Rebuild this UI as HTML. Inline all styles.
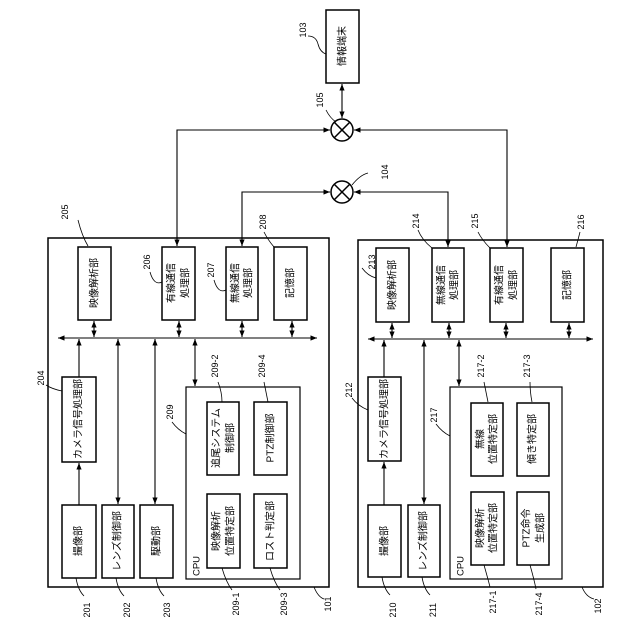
<!DOCTYPE html>
<html><head><meta charset="utf-8"><style>
html,body{margin:0;padding:0;background:#fff}
svg{display:block}
text{font-family:"Liberation Sans","Noto Sans CJK JP",sans-serif;fill:#000}
</style></head><body>
<svg width="640" height="640" viewBox="0 0 640 640" xmlns="http://www.w3.org/2000/svg">
<defs>
<marker id="a" viewBox="0 0 10 10" refX="10" refY="5" markerWidth="6" markerHeight="6" orient="auto-start-reverse"><path d="M0,1 L10,5 L0,9 z" fill="#000"/></marker>
</defs>
<g fill="none" stroke="#000" stroke-width="1.5">
<rect x="48" y="238" width="281" height="349"/>
<rect x="358" y="240" width="245" height="347"/>
<rect x="326" y="10" width="33" height="73"/>
<rect x="78" y="247" width="33" height="73"/>
<rect x="162" y="247" width="33" height="73"/>
<rect x="226" y="247" width="32" height="73"/>
<rect x="274" y="247" width="33" height="73"/>
<rect x="62" y="377" width="34" height="85"/>
<rect x="62" y="505" width="34" height="73"/>
<rect x="102" y="505" width="32" height="73"/>
<rect x="140" y="505" width="33" height="73"/>
<rect x="186" y="387" width="114" height="192" stroke-width="1.2"/>
<rect x="207" y="402" width="32" height="73"/>
<rect x="254" y="402" width="33" height="73"/>
<rect x="207" y="494" width="33" height="74"/>
<rect x="254" y="494" width="33" height="74"/>
<rect x="376" y="248" width="33" height="74"/>
<rect x="432" y="248" width="32" height="74"/>
<rect x="490" y="248" width="33" height="74"/>
<rect x="551" y="248" width="33" height="74"/>
<rect x="368" y="377" width="33" height="84"/>
<rect x="368" y="505" width="33" height="72"/>
<rect x="408" y="505" width="32" height="72"/>
<rect x="450" y="387" width="112" height="192" stroke-width="1.2"/>
<rect x="471" y="403" width="32" height="73"/>
<rect x="517" y="403" width="32" height="73"/>
<rect x="471" y="492" width="33" height="73"/>
<rect x="517" y="492" width="32" height="73"/>
</g>
<g fill="none" stroke="#000" stroke-width="1.1">
<line x1="58" y1="338" x2="317" y2="338" marker-start="url(#a)" marker-end="url(#a)"/>
<line x1="368" y1="339" x2="593" y2="339" marker-start="url(#a)" marker-end="url(#a)"/>
<line x1="94" y1="321" x2="94" y2="337" marker-start="url(#a)" marker-end="url(#a)"/>
<line x1="179" y1="321" x2="179" y2="337" marker-start="url(#a)" marker-end="url(#a)"/>
<line x1="242" y1="321" x2="242" y2="337" marker-start="url(#a)" marker-end="url(#a)"/>
<line x1="292" y1="321" x2="292" y2="337" marker-start="url(#a)" marker-end="url(#a)"/>
<line x1="79" y1="505" x2="79" y2="463" marker-end="url(#a)"/>
<line x1="79" y1="377" x2="79" y2="339" marker-end="url(#a)"/>
<line x1="118" y1="339" x2="118" y2="504" marker-start="url(#a)" marker-end="url(#a)"/>
<line x1="155" y1="339" x2="155" y2="504" marker-start="url(#a)" marker-end="url(#a)"/>
<line x1="195" y1="339" x2="195" y2="386" marker-start="url(#a)" marker-end="url(#a)"/>
<line x1="392" y1="323" x2="392" y2="338" marker-start="url(#a)" marker-end="url(#a)"/>
<line x1="449" y1="323" x2="449" y2="338" marker-start="url(#a)" marker-end="url(#a)"/>
<line x1="506" y1="323" x2="506" y2="338" marker-start="url(#a)" marker-end="url(#a)"/>
<line x1="569" y1="323" x2="569" y2="338" marker-start="url(#a)" marker-end="url(#a)"/>
<line x1="384" y1="505" x2="384" y2="462" marker-end="url(#a)"/>
<line x1="384" y1="377" x2="384" y2="340" marker-end="url(#a)"/>
<line x1="424" y1="340" x2="424" y2="504" marker-start="url(#a)" marker-end="url(#a)"/>
<line x1="459" y1="340" x2="459" y2="386" marker-start="url(#a)" marker-end="url(#a)"/>
<line x1="342" y1="84" x2="342" y2="118" marker-start="url(#a)" marker-end="url(#a)"/>
<polyline points="177,246 177,130 330,130" marker-start="url(#a)" marker-end="url(#a)"/>
<polyline points="507,247 507,130 354,130" marker-start="url(#a)" marker-end="url(#a)"/>
<polyline points="242,246 242,192 330,192" marker-start="url(#a)" marker-end="url(#a)"/>
<polyline points="448,247 448,192 354,192" marker-start="url(#a)" marker-end="url(#a)"/>
</g>
<g fill="none" stroke="#000" stroke-width="1.5">
<circle cx="342" cy="130" r="11"/>
<line x1="334" y1="122" x2="350" y2="138"/><line x1="350" y1="122" x2="334" y2="138"/>
<circle cx="342" cy="192" r="11"/>
<line x1="334" y1="184" x2="350" y2="200"/><line x1="350" y1="184" x2="334" y2="200"/>
</g>
<g fill="none" stroke="#000" stroke-width="0.8">
<path d="M308,36 q8,0 10,8 q2,8 8,10"/>
<path d="M326,110 q4,8 10,12"/>
<path d="M352,185 q8,-10 16,-12"/>
<path d="M78,220 q4,16 10,26"/>
<path d="M264,232 q4,8 10,15"/>
<path d="M418,230 q4,10 14,18"/>
<path d="M478,232 q4,8 12,16"/>
<path d="M580,232 q-2,8 -4,15"/>
<path d="M150,272 q4,14 12,10"/>
<path d="M214,280 q4,14 12,10"/>
<path d="M362,268 q6,8 14,10"/>
<path d="M46,385 q6,4 16,6"/>
<path d="M352,398 q6,8 16,12"/>
<path d="M172,422 q6,8 14,12"/>
<path d="M436,424 q6,8 14,12"/>
<path d="M218,382 q4,10 4,20"/>
<path d="M264,382 q2,10 4,20"/>
<path d="M484,382 q2,10 4,20"/>
<path d="M530,382 q0,10 2,20"/>
<path d="M76,578 q2,12 8,18"/>
<path d="M116,578 q2,12 8,18"/>
<path d="M156,578 q2,12 8,18"/>
<path d="M222,568 q4,14 10,22"/>
<path d="M270,568 q4,14 10,22"/>
<path d="M314,587 q4,10 10,12"/>
<path d="M382,577 q2,12 8,18"/>
<path d="M422,577 q2,12 8,18"/>
<path d="M484,565 q4,14 6,22"/>
<path d="M530,565 q4,14 6,24"/>
<path d="M582,587 q4,10 12,12"/>
</g>
<g font-size="10" text-anchor="middle" dominant-baseline="central">
<text transform="translate(343,46) rotate(-90)">情報端末</text>
<text transform="translate(95,283) rotate(-90)">映像解析部</text>
<text transform="translate(172,283) rotate(-90)">有線通信</text>
<text transform="translate(186,283) rotate(-90)">処理部</text>
<text transform="translate(236,283) rotate(-90)">無線通信</text>
<text transform="translate(249,283) rotate(-90)">処理部</text>
<text transform="translate(291,283) rotate(-90)">記憶部</text>
<text transform="translate(79,419) rotate(-90)">カメラ信号処理部</text>
<text transform="translate(79,541) rotate(-90)">撮像部</text>
<text transform="translate(118,541) rotate(-90)">レンズ制御部</text>
<text transform="translate(157,541) rotate(-90)">駆動部</text>
<text transform="translate(217,438) rotate(-90)">追尾システム</text>
<text transform="translate(231,438) rotate(-90)">制御部</text>
<text transform="translate(271,438) rotate(-90)">PTZ制御部</text>
<text transform="translate(217,531) rotate(-90)">映像解析</text>
<text transform="translate(231,531) rotate(-90)">位置特定部</text>
<text transform="translate(271,531) rotate(-90)">ロスト判定部</text>
<text transform="translate(197,566) rotate(-90)" font-size="9.5">CPU</text>
<text transform="translate(393,285) rotate(-90)">映像解析部</text>
<text transform="translate(442,285) rotate(-90)">無線通信</text>
<text transform="translate(455,285) rotate(-90)">処理部</text>
<text transform="translate(500,285) rotate(-90)">有線通信</text>
<text transform="translate(514,285) rotate(-90)">処理部</text>
<text transform="translate(568,285) rotate(-90)">記憶部</text>
<text transform="translate(385,419) rotate(-90)">カメラ信号処理部</text>
<text transform="translate(385,541) rotate(-90)">撮像部</text>
<text transform="translate(424,541) rotate(-90)">レンズ制御部</text>
<text transform="translate(481,439) rotate(-90)">無線</text>
<text transform="translate(494,439) rotate(-90)">位置特定部</text>
<text transform="translate(533,439) rotate(-90)">傾き特定部</text>
<text transform="translate(481,528) rotate(-90)">映像解析</text>
<text transform="translate(494,528) rotate(-90)">位置特定部</text>
<text transform="translate(527,528) rotate(-90)">PTZ命令</text>
<text transform="translate(541,528) rotate(-90)">生成部</text>
<text transform="translate(461,566) rotate(-90)" font-size="9.5">CPU</text>
</g>
<g font-size="9" text-anchor="middle" dominant-baseline="central">
<text transform="translate(303,30) rotate(-90)">103</text>
<text transform="translate(320,100) rotate(-90)">105</text>
<text transform="translate(385,172) rotate(-90)">104</text>
<text transform="translate(65,212) rotate(-90)">205</text>
<text transform="translate(263,222) rotate(-90)">208</text>
<text transform="translate(416,221) rotate(-90)">214</text>
<text transform="translate(475,221) rotate(-90)">215</text>
<text transform="translate(581,222) rotate(-90)">216</text>
<text transform="translate(147,262) rotate(-90)">206</text>
<text transform="translate(211,270) rotate(-90)">207</text>
<text transform="translate(372,262) rotate(-90)">213</text>
<text transform="translate(41,378) rotate(-90)">204</text>
<text transform="translate(349,390) rotate(-90)">212</text>
<text transform="translate(170,412) rotate(-90)">209</text>
<text transform="translate(434,415) rotate(-90)">217</text>
<text transform="translate(215,366) rotate(-90)">209-2</text>
<text transform="translate(262,366) rotate(-90)">209-4</text>
<text transform="translate(481,366) rotate(-90)">217-2</text>
<text transform="translate(527,366) rotate(-90)">217-3</text>
<text transform="translate(87,610) rotate(-90)">201</text>
<text transform="translate(127,610) rotate(-90)">202</text>
<text transform="translate(167,610) rotate(-90)">203</text>
<text transform="translate(236,604) rotate(-90)">209-1</text>
<text transform="translate(284,604) rotate(-90)">209-3</text>
<text transform="translate(328,604) rotate(-90)">101</text>
<text transform="translate(393,610) rotate(-90)">210</text>
<text transform="translate(433,610) rotate(-90)">211</text>
<text transform="translate(493,602) rotate(-90)">217-1</text>
<text transform="translate(539,604) rotate(-90)">217-4</text>
<text transform="translate(598,606) rotate(-90)">102</text>
</g>
</svg>
</body></html>
